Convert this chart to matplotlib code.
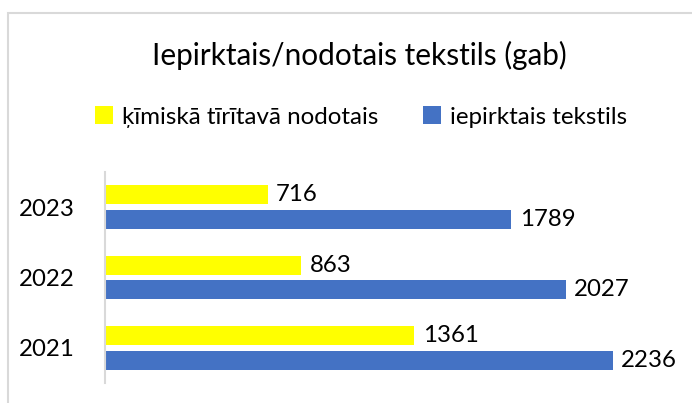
import matplotlib
matplotlib.use("Agg")
import matplotlib.pyplot as plt
from matplotlib.patches import Rectangle
import numpy as np

plt.rcParams['font.family'] = ['Lato', 'DejaVu Sans']

years = ["2021", "2022", "2023"]
nodotais = [1361, 863, 716]
iepirktais = [2236, 2027, 1789]
series_names = ["ķīmiskā tīrītavā nodotais", "iepirktais tekstils"]
title = "Iepirktais/nodotais tekstils (gab)"

W, H = 692, 403
fig = plt.figure(figsize=(W/100, H/100), dpi=100)
ax = fig.add_axes([105/W, 1-383/H, (673-105)/W, (383-172)/H])

y = np.arange(len(years))
h = 0.27
off = 0.175
yellow, blue = "#FFFF00", "#4472C4"
b1 = ax.barh(y + off, nodotais, height=h, color=yellow, label=series_names[0])
b2 = ax.barh(y - off, iepirktais, height=h, color=blue, label=series_names[1])

fs = 17.3
for bars, vals in ((b1, nodotais), (b2, iepirktais)):
    for r, v in zip(bars, vals):
        ax.annotate(str(v), (r.get_width(), r.get_y() + r.get_height()/2),
                    xytext=(6, 0), textcoords="offset points",
                    va="center", ha="left", fontsize=fs, color="#000000")

ax.set_xlim(0, 2500)
ax.set_ylim(-0.5, 2.5)
ax.set_yticks(y)
ax.set_yticklabels(years, fontsize=fs)
ax.tick_params(axis='y', length=0, pad=22)
ax.set_xticks([])
for s in ("top", "right", "bottom"):
    ax.spines[s].set_visible(False)
ax.spines["left"].set_color("#d9d9d9")
ax.spines["left"].set_linewidth(1.5)

fig.text(359/W, 1-55/H, title, ha="center", va="center", fontsize=21.4, color="#000000")

fig.legend(handles=[b1, b2], labels=series_names, loc="center",
           bbox_to_anchor=(361/W, 1-117/H), ncol=2, frameon=False,
           fontsize=17.4, handlelength=0.75, handleheight=0.75, handletextpad=0.35,
           columnspacing=1.85)

fig.patches.append(Rectangle((8/W, -0.1), 1.2, 1-13/H+0.1, transform=fig.transFigure,
                             fill=False, edgecolor="#d9d9d9", linewidth=1.5))

fig.savefig("out.png", dpi=100)
